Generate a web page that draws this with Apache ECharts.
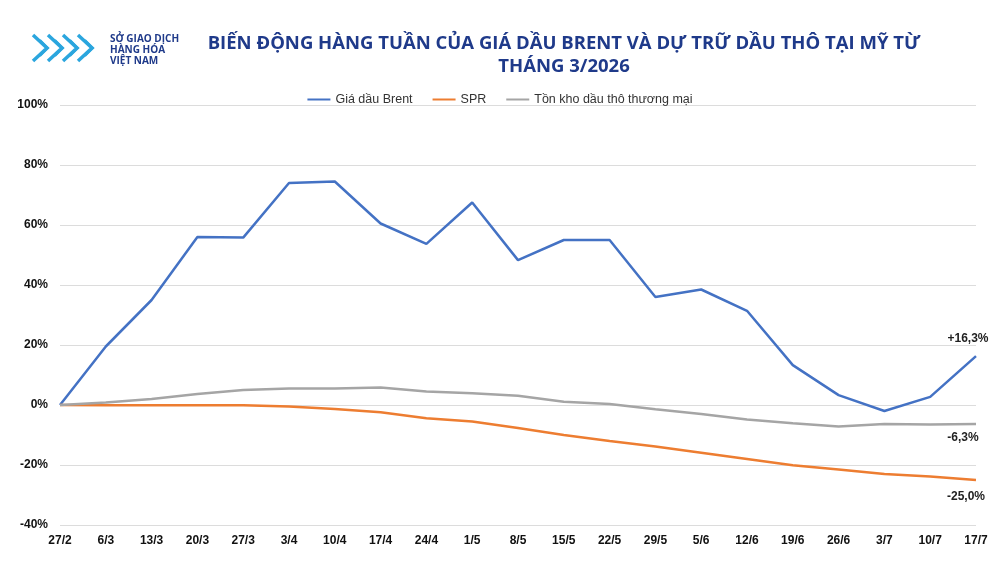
<!DOCTYPE html>
<html>
<head>
<meta charset="utf-8">
<script src="https://cdn.jsdelivr.net/npm/echarts@6/dist/echarts.min.js"></script>
<style>
    html, body {margin: 0; padding: 0; background: #fff;}
    #result {width: 1000px; height: 562px;}
</style>
</head>
<body>
<div id="result"></div>
<script>
// tuần (trục hoành)
var weeks = ['27/2', '6/3', '13/3', '20/3', '27/3', '3/4', '10/4', '17/4', '24/4', '1/5', '8/5',
             '15/5', '22/5', '29/5', '5/6', '12/6', '19/6', '26/6', '3/7', '10/7', '17/7'];

// % thay đổi so với 27/2
var brent = [0, 19.5, 35, 56, 55.8, 74, 74.5, 60.5, 53.7, 67.5, 48.3,
             55, 55, 36, 38.5, 31.4, 13.3, 3.3, -2.0, 2.7, 16.3];
var spr = [0, -0.1, -0.1, -0.1, -0.1, -0.5, -1.3, -2.4, -4.4, -5.5, -7.7,
           -10, -12, -13.8, -15.9, -18, -20.1, -21.5, -23, -23.8, -25.0];
var tonkho = [0, 0.8, 2.0, 3.7, 5.0, 5.5, 5.5, 5.8, 4.5, 3.9, 3.1,
              1.1, 0.3, -1.4, -3.0, -4.8, -6.1, -7.2, -6.3, -6.5, -6.3];

var yTicks = [-40, -20, 0, 20, 40, 60, 80, 100];

var names = ['Giá dầu Brent', 'SPR', 'Tồn kho dầu thô thương mại'];
var colors = ['#4472C4', '#ED7D31', '#A5A5A5'];

function fmt_last(v){
    var s = v.toFixed(1).replace('.', ',') + '%';
    return v > 0 ? '+' + s : s;
}

function make_series(name, values, color, pos, offset){
    var last = values.length - 1;
    return {
        name: name,
        type: 'line',
        data: values,
        symbol: 'circle',
        symbolSize: 0,
        showSymbol: true,
        smooth: false,
        lineStyle: {color: color, width: 2.5},
        itemStyle: {color: color},
        label: {
            show: true,
            position: pos,
            offset: offset,
            fontFamily: 'Liberation Sans',
            fontWeight: 'bold',
            fontSize: 12,
            color: '#222',
            formatter: function(p){
                return p.dataIndex == last ? fmt_last(p.value) : '';
            }
        }
    };
}

// logo: các chữ V lồng nhau
var logo = [];
for (var i = 0; i < 4; i++) {
    var x0 = 33 + i * 15;
    logo.push({
        type: 'polyline',
        shape: {points: [[x0, 35], [x0 + 14, 48], [x0, 61]]},
        style: {stroke: '#2BA6DE', lineWidth: 3.5, fill: null}
    });
    logo.push({
        type: 'polyline',
        shape: {points: [[x0 + 7, 40], [x0 + 15, 48], [x0 + 7, 56]]},
        style: {stroke: '#2BA6DE', lineWidth: 2, fill: null}
    });
}

var myChart = echarts.init(document.getElementById('result'));

var option = {
    animation: false,
    backgroundColor: '#fff',
    color: colors,
    title: {
        text: 'BIẾN ĐỘNG HÀNG TUẦN CỦA GIÁ DẦU BRENT VÀ DỰ TRỮ DẦU THÔ TẠI MỸ TỪ\nTHÁNG 3/2026',
        left: 559,
        top: 27,
        textAlign: 'center',
        textStyle: {
            fontFamily: 'Open Sans',
            fontWeight: 'bold',
            fontSize: 18.5,
            color: '#1F3A8A',
            lineHeight: 23
        }
    },
    legend: {
        data: names,
        top: 88,
        left: 'center',
        itemWidth: 23,
        itemHeight: 2,
        itemGap: 20,
        icon: 'rect',
        textStyle: {fontFamily: 'Liberation Sans', fontSize: 12.5, color: '#333'}
    },
    grid: {left: 60, right: 24, top: 105, bottom: 37},
    xAxis: {
        type: 'category',
        data: weeks,
        boundaryGap: false,
        axisLine: {show: false},
        axisTick: {show: false},
        axisLabel: {
            fontFamily: 'Liberation Sans',
            fontWeight: 'bold',
            fontSize: 12,
            color: '#111',
            margin: 10,
            interval: 0
        }
    },
    yAxis: {
        type: 'value',
        min: yTicks[0],
        max: yTicks[yTicks.length - 1],
        interval: 20,
        axisLine: {show: false},
        axisTick: {show: false},
        splitLine: {lineStyle: {color: '#DCDCDC', width: 1}},
        axisLabel: {
            fontFamily: 'Liberation Sans',
            fontWeight: 'bold',
            fontSize: 12,
            color: '#111',
            margin: 12,
            formatter: '{value}%'
        }
    },
    graphic: logo.concat([{
        type: 'text',
        left: 110,
        top: 34,
        style: {
            text: 'SỞ GIAO DỊCH\nHÀNG HÓA\nVIỆT NAM',
            font: 'bold 10px "Open Sans"',
            lineHeight: 11,
            fill: '#1F3A8A'
        }
    }]),
    series: [
        make_series(names[0], brent, colors[0], 'top', [-8, -6]),
        make_series(names[1], spr, colors[1], 'bottom', [-10, 6]),
        make_series(names[2], tonkho, colors[2], 'bottom', [-13, 3])
    ]
};

myChart.setOption(option);
</script>
</body>
</html>
